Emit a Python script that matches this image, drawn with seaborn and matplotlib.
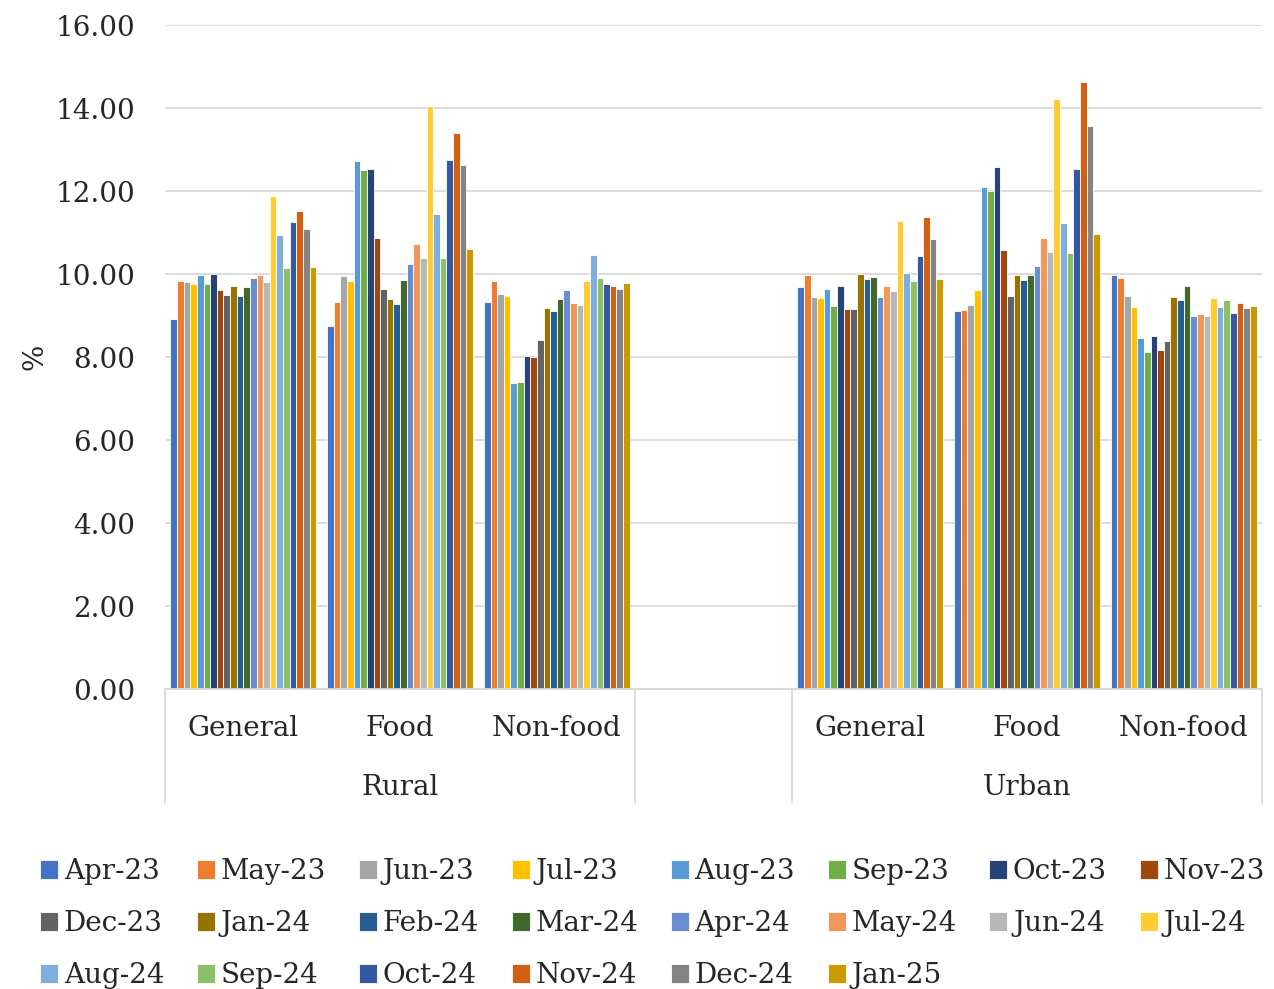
import numpy as np
import pandas as pd
import matplotlib.pyplot as plt
import seaborn as sns

# Months (series) and the Excel office palette used in the reference
months = ["Apr-23", "May-23", "Jun-23", "Jul-23", "Aug-23", "Sep-23", "Oct-23", "Nov-23",
          "Dec-23", "Jan-24", "Feb-24", "Mar-24", "Apr-24", "May-24", "Jun-24", "Jul-24",
          "Aug-24", "Sep-24", "Oct-24", "Nov-24", "Dec-24", "Jan-25"]
colors = ["#4472C4", "#ED7D31", "#A5A5A5", "#FFC000", "#5B9BD5", "#70AD47", "#264478", "#9E480E",
          "#636363", "#997300", "#255E91", "#43682B", "#698ED0", "#F1975A", "#B7B7B7", "#FFCD33",
          "#7CAFDD", "#8CC168", "#335AA1", "#D26012", "#848484", "#CC9A00"]

# Category slots: three rural, an empty spacer, three urban
slots = ["Rural General", "Rural Food", "Rural Non-food", "spacer",
         "Urban General", "Urban Food", "Urban Non-food"]
sub_labels = ["General", "Food", "Non-food", "", "General", "Food", "Non-food"]

rural_general = [8.91, 9.84, 9.81, 9.75, 9.98, 9.75, 9.99, 9.61, 9.49, 9.70, 9.48,
                 9.68, 9.91, 9.98, 9.81, 11.88, 10.95, 10.14, 11.25, 11.53, 11.09, 10.18]
rural_food = [8.75, 9.32, 9.95, 9.82, 12.72, 12.51, 12.52, 10.86, 9.65, 9.41, 9.28,
              9.86, 10.25, 10.72, 10.39, 14.06, 11.44, 10.38, 12.75, 13.41, 12.63, 10.60]
rural_nonfood = [9.33, 9.82, 9.52, 9.48, 7.38, 7.41, 8.02, 8.01, 8.41, 9.18, 9.11,
                 9.41, 9.61, 9.31, 9.26, 9.84, 10.46, 9.90, 9.76, 9.72, 9.65, 9.78]
urban_general = [9.69, 9.98, 9.45, 9.43, 9.63, 9.24, 9.72, 9.16, 9.16, 9.99, 9.88,
                 9.94, 9.45, 9.71, 9.58, 11.27, 10.02, 9.83, 10.43, 11.37, 10.84, 9.89]
urban_food = [9.10, 9.13, 9.26, 9.62, 12.10, 12.01, 12.58, 10.58, 9.46, 9.98, 9.86,
              9.98, 10.19, 10.86, 10.53, 14.21, 11.24, 10.50, 12.53, 14.63, 13.56, 10.96]
urban_nonfood = [9.98, 9.90, 9.47, 9.20, 8.47, 8.12, 8.50, 8.17, 8.39, 9.44, 9.37,
                 9.71, 9.00, 9.03, 8.98, 9.43, 9.20, 9.37, 9.06, 9.31, 9.17, 9.24]

series = {"Rural General": rural_general, "Rural Food": rural_food,
          "Rural Non-food": rural_nonfood, "Urban General": urban_general,
          "Urban Food": urban_food, "Urban Non-food": urban_nonfood}

rows = []
for slot, vals in series.items():
    for m, v in zip(months, vals):
        rows.append({"slot": slot, "month": m, "value": v})
df = pd.DataFrame(rows)

sns.set_style("white")
plt.rcParams['font.family'] = ['DejaVu Serif']
FS = 20

fig = plt.figure(figsize=(12.74, 9.89), dpi=100)
ax = fig.add_axes([0.1295, 0.3033, 0.8611, 0.6714])

sns.barplot(data=df, x="slot", y="value", hue="month", order=slots, hue_order=months,
            palette=colors, width=0.93, errorbar=None, edgecolor="white", linewidth=0.6,
            saturation=1, ax=ax)

handles, labels = ax.get_legend_handles_labels()
ax.get_legend().remove()

ax.set_xlim(-0.5, 6.5)
ax.set_ylim(0, 16)
ax.set_yticks(np.arange(0, 17, 2))
ax.set_yticklabels([f"{v:.2f}" for v in np.arange(0, 17, 2)], fontsize=FS)
ax.tick_params(axis="y", length=0, pad=21.5)
ax.yaxis.grid(True, color="#D9D9D9", linewidth=1.3)
ax.set_axisbelow(True)
for s in ["top", "right", "left"]:
    ax.spines[s].set_visible(False)
ax.spines["bottom"].set_color("#D9D9D9")
ax.spines["bottom"].set_linewidth(1.3)

ax.set_xticks([])
ax.set_xlabel("")
ax.set_ylabel("%", fontsize=FS, labelpad=5)

# two-level category axis
trans = ax.get_xaxis_transform()
for i, lab in enumerate(sub_labels):
    ax.text(i, -0.06, lab, transform=trans, ha="center", va="center", fontsize=FS)
ax.text(1, -0.148, "Rural", transform=trans, ha="center", va="center", fontsize=FS)
ax.text(5, -0.148, "Urban", transform=trans, ha="center", va="center", fontsize=FS)
for xb in [-0.5, 2.5, 3.5, 6.5]:
    ax.plot([xb, xb], [0, -0.172], transform=trans, color="#D9D9D9", lw=1.3, clip_on=False)

# legend filled row by row (8 per row)
ncol = 8
order = [i for c in range(ncol) for i in range(c, len(handles), ncol)]
fig.legend([handles[i] for i in order], [labels[i] for i in order],
           loc="upper left", bbox_to_anchor=(0.012, 0.1577), ncol=ncol,
           frameon=False, fontsize=FS, handlelength=0.65, handleheight=0.65,
           handletextpad=0.2, columnspacing=1.18, labelspacing=0.9)

fig.savefig("out.png", dpi=100)
